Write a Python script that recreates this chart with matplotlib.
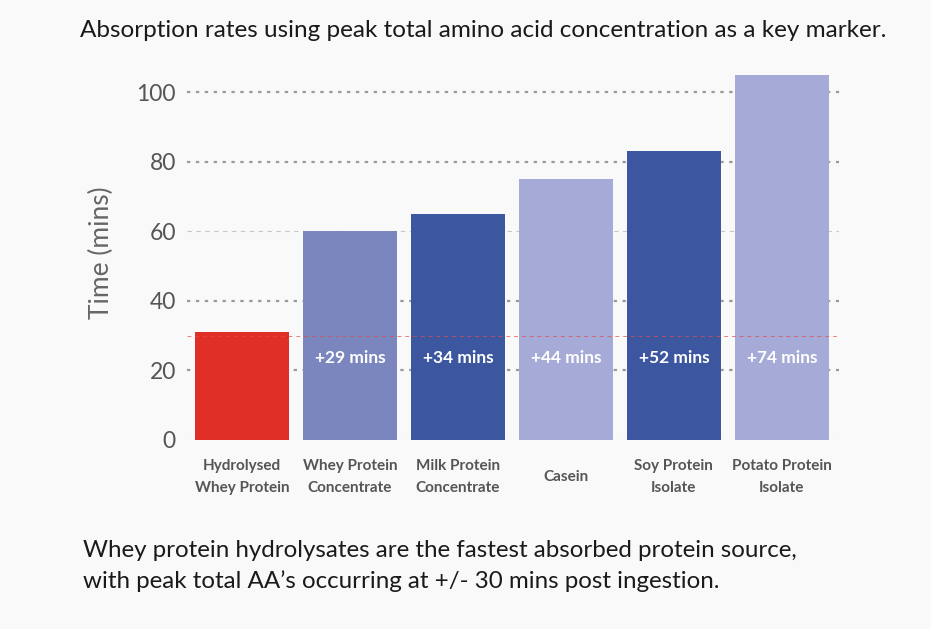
import matplotlib
matplotlib.use("Agg")
import matplotlib.pyplot as plt
import matplotlib.transforms as mtransforms

categories = ["Hydrolysed\nWhey Protein", "Whey Protein\nConcentrate", "Milk Protein\nConcentrate",
              "Casein", "Soy Protein\nIsolate", "Potato Protein\nIsolate"]
values = [31, 60, 65, 75, 83, 105]
bar_labels = ["", "+29 mins", "+34 mins", "+44 mins", "+52 mins", "+74 mins"]
colors = ["#E02F27", "#7B86BF", "#3C56A0", "#A5AAD6", "#3C56A0", "#A5AAD6"]
yticks = [0, 20, 40, 60, 80, 100]
reference_line = 30

plt.rcParams['font.family'] = ['Lato', 'DejaVu Sans']
bg = "#F9F9F9"
fig = plt.figure(figsize=(9.31, 6.29), dpi=100, facecolor=bg)
ax = fig.add_axes([0.2009, 0.3005, 0.7003, 0.597], facecolor=bg)

x = list(range(len(categories)))
ax.set_xlim(-0.51, len(categories) - 0.47)
ax.set_ylim(0, 108)
ax.set_yticks(yticks)
ax.set_yticklabels([str(t) for t in yticks], fontsize=16.5, color="#555555")
ax.tick_params(axis='y', length=0, pad=8)
ax.set_xticks([])
for s in ax.spines.values():
    s.set_visible(False)
for t in yticks:
    if t in (0, 60):
        ax.axhline(t, color="#C8C8C8", linestyle=(0, (4, 4)), linewidth=0.8, zorder=0)
    else:
        ax.axhline(t, color="#9A9A9A", linestyle=(0, (1.5, 2.5)), linewidth=1.6, zorder=0)

ax.bar(x, values, width=0.87, color=colors, zorder=2)
ax.axhline(reference_line, color="#E84A4A", linestyle=(0, (4, 4)), linewidth=0.7, alpha=0.7, zorder=3)

for xi, lab in zip(x, bar_labels):
    if lab:
        ax.text(xi, 23.5, lab, ha='center', va='center', color='white', fontsize=12.5,
                fontweight='bold', zorder=4)

trans = mtransforms.blended_transform_factory(ax.transData, fig.transFigure)
for xi, cat in zip(x, categories):
    fig.text(xi, 1 - 477 / 629, cat, transform=trans, ha='center', va='center',
             fontsize=11, color="#555555", fontweight='bold', linespacing=1.65)

ax.set_ylabel("Time (mins)", fontsize=19, color="#666666", labelpad=16)

fig.text(0.5185, 0.951, "Absorption rates using peak total amino acid concentration as a key marker.",
         ha='center', va='center', fontsize=17.5, color="#1a1a1a")
fig.text(0.089, 0.1, "Whey protein hydrolysates are the fastest absorbed protein source,\nwith peak total AA\u2019s occurring at +/- 30 mins post ingestion.",
         ha='left', va='center', fontsize=17.4, color="#1a1a1a", linespacing=1.5)

fig.savefig("out.png", dpi=100, facecolor=bg)
